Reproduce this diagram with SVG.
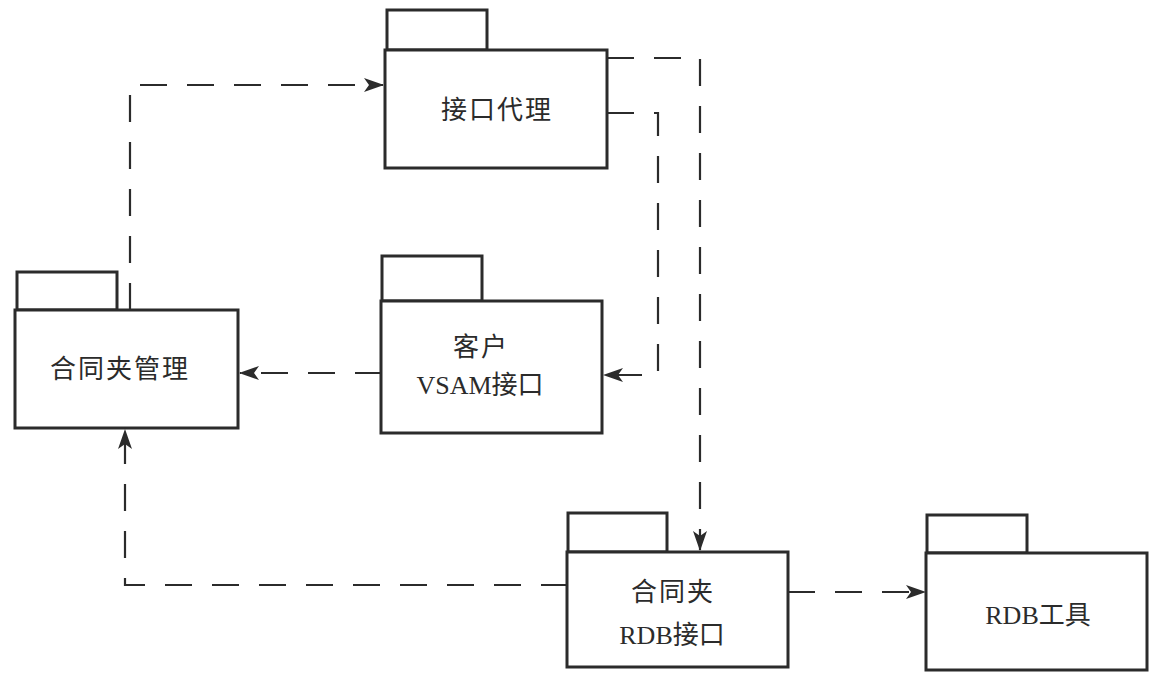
<svg xmlns="http://www.w3.org/2000/svg" width="1155" height="681" viewBox="0 0 1155 681">
<style>
.box{fill:#fff;stroke:#2b2b2b;stroke-width:3}
.lbl{font-family:"Liberation Serif","Noto Sans CJK SC",serif;font-size:26px;fill:#2b2b2b;text-anchor:middle}
.cn{letter-spacing:2px}
.dep{fill:none;stroke:#2b2b2b;stroke-width:2.2;stroke-dasharray:27 20}
</style>
<defs>
<marker id="ah" viewBox="0 0 20 14" refX="19" refY="7" markerWidth="20" markerHeight="14" markerUnits="userSpaceOnUse" orient="auto">
<path d="M0,0 L20,7 L0,14 L5,7 Z" fill="#2b2b2b"/>
</marker>
</defs>
<rect width="1155" height="681" fill="#fff"/>
<g id="connectors">
<path class="dep" d="M130,310 V85 H383" marker-end="url(#ah)"/>
<path class="dep" d="M607,113 H658 V375 H604" marker-end="url(#ah)"/>
<path class="dep" d="M607,58 H700 V550" marker-end="url(#ah)"/>
<path class="dep" d="M382,373 H240" marker-end="url(#ah)"/>
<path class="dep" d="M568,585 H125 V430" marker-end="url(#ah)"/>
<path class="dep" d="M788,592 H925" marker-end="url(#ah)"/>
</g>
<g id="node-jiekoudaili">
<rect class="box" x="387" y="10" width="100" height="40"/>
<rect class="box" x="385" y="50" width="222" height="118"/>
<text class="lbl cn" x="497" y="119">接口代理</text>
</g>
<g id="node-hetongjiaguanli">
<rect class="box" x="17" y="272" width="100" height="38"/>
<rect class="box" x="15" y="310" width="223" height="118"/>
<text class="lbl cn" x="120" y="378">合同夹管理</text>
</g>
<g id="node-kehuvsam">
<rect class="box" x="382" y="256" width="100" height="45"/>
<rect class="box" x="381" y="301" width="221" height="132"/>
<text class="lbl cn" x="481" y="356">客户</text>
<text class="lbl" x="480" y="394">VSAM接口</text>
</g>
<g id="node-hetongjiardb">
<rect class="box" x="568" y="513" width="99" height="39"/>
<rect class="box" x="567" y="552" width="221" height="115"/>
<text class="lbl cn" x="673" y="601">合同夹</text>
<text class="lbl" x="672" y="644">RDB接口</text>
</g>
<g id="node-rdbtool">
<rect class="box" x="927" y="515" width="100" height="38"/>
<rect class="box" x="926" y="553" width="221" height="117"/>
<text class="lbl" x="1038" y="624">RDB工具</text>
</g>
</svg>
